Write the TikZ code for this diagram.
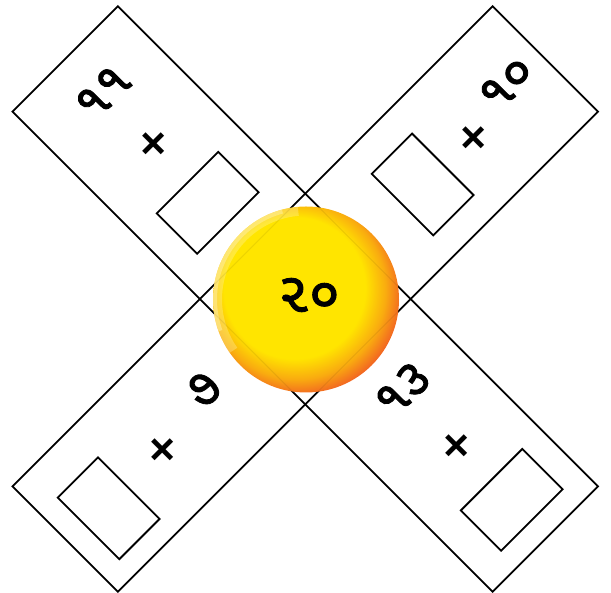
\documentclass[tikz,border=0pt]{standalone}
\usepackage{fontspec}
\usepackage{tikz}
\usetikzlibrary{calc}
\newfontfamily\gujfont[Script=Gujarati,FakeBold=1.6]{Noto Sans Gujarati UI}
\newfontfamily\plusfont{DejaVu Sans}
\definecolor{sunc}{HTML}{FFE500}
\definecolor{rimc}{HTML}{F26522}
\definecolor{paleC}{HTML}{FFF3A8}
\pgfdeclareradialshading{sunball}{\pgfpoint{-5bp}{5bp}}{color(0bp)=(sunc);color(19bp)=(sunc);color(24bp)=(sunc!55!rimc);color(28bp)=(rimc);color(50bp)=(rimc)}
\tikzset{
  strip/.style={draw=black,line width=1.8pt},
  blank/.style={draw=black,line width=1.8pt,inner sep=0pt},
  num/.style={font=\gujfont\fontsize{52}{52}\selectfont,rotate=45,inner sep=0pt},
  plus/.style={font=\plusfont\bfseries\fontsize{42}{42}\selectfont,rotate=45,inner sep=0pt}
}
\begin{document}
\begin{tikzpicture}[x=1pt,y=1pt]
\useasboundingbox (0,0) rectangle (611,593);
% the two crossing strips
\begin{scope}[shift={(305.25,294)},rotate=45]
\draw[strip] (-74.5,-339.5) rectangle (74.5,339.5);
\draw[strip] (-339.5,-74.5) rectangle (339.5,74.5);
% upper left
\node[num] (numA) at (3,289) {૧૧};
\node[plus] (plusA) at (3,217) {+};
\node[blank,minimum width=87pt,minimum height=57pt,rotate=45] (boxA) at (-1,137) {};
% upper right
\node[num] (numB) at (295,10) {૧૦};
\node[plus] (plusB) at (233,-5) {+};
\node[blank,minimum width=57pt,minimum height=87pt,rotate=45] (boxB) at (164,-2) {};
% lower left
\node[num] (numC) at (-136,8) {૭};
\node[plus] (plusC) at (-207,-6) {+};
\node[blank,minimum width=57pt,minimum height=87pt,rotate=45] (boxC) at (-287,-9) {};
% lower right
\node[num] (numD) at (5,-133) {૧૩};
\node[plus] (plusD) at (3,-211) {+};
\node[blank,minimum width=87pt,minimum height=57pt,rotate=45] (boxD) at (4,-288) {};
\end{scope}
% sun in the middle
\shade[shading=sunball] (306,293.5) circle (93);
\begin{scope}
\clip (306,293.5) circle (93);
\draw[paleC,line width=10pt,opacity=0.35] (306,293.5) ++(95:89) arc (95:215:89);
\draw[paleC,line width=4pt,opacity=0.5] (306,293.5) ++(105:91) arc (105:200:91);
\begin{scope}[shift={(305.25,294)},rotate=45]
\draw[black,opacity=0.07,line width=1pt] (-74.5,-339.5) rectangle (74.5,339.5);
\draw[black,opacity=0.07,line width=1pt] (-339.5,-74.5) rectangle (339.5,74.5);
\end{scope}
\end{scope}
\node[font=\gujfont\fontsize{56}{56}\selectfont,inner sep=0pt] (total) at (309,298) {૨૦};
\end{tikzpicture}
\end{document}
